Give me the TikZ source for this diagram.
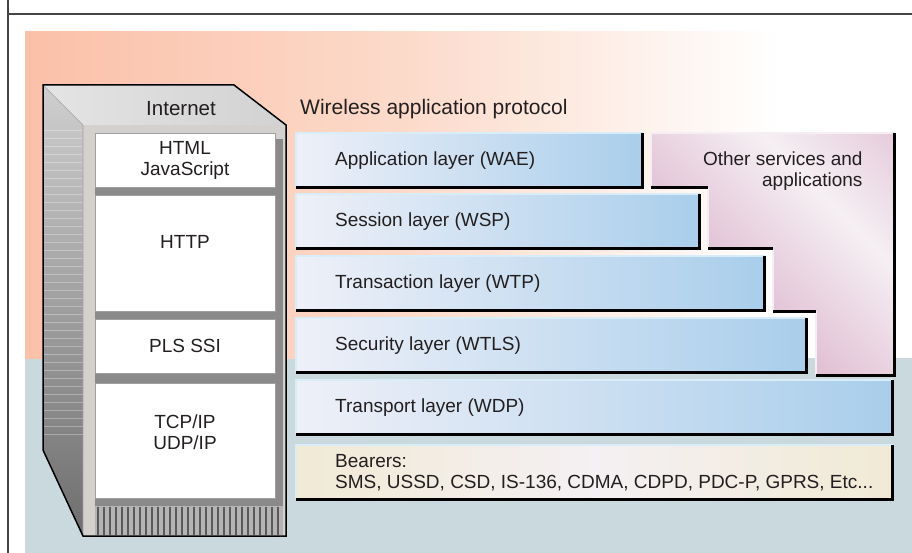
\documentclass[tikz,border=0pt]{standalone}
\usepackage{fontspec}
\setmainfont{Liberation Sans}
\usetikzlibrary{positioning}

\definecolor{ink}{HTML}{231F20}
\definecolor{framegray}{HTML}{444444}
\definecolor{salmon}{HTML}{FBC0A8}
\definecolor{salmonmid}{HTML}{FCDACA}
\definecolor{bgblue}{HTML}{C9D9DD}
\definecolor{barleft}{HTML}{EEF0F8}
\definecolor{barright}{HTML}{A9CEEB}
\definecolor{barhigh}{HTML}{D9EDF8}
\definecolor{cream}{HTML}{F1EAD5}
\definecolor{creammid}{HTML}{F4F0F3}
\definecolor{mauve}{HTML}{D9AEC8}
\definecolor{mauvehigh}{HTML}{F5EFF3}
\definecolor{sidetop}{HTML}{CFCFCF}
\definecolor{sidebot}{HTML}{6E6E6E}
\definecolor{topleft}{HTML}{E4E4E4}
\definecolor{topright}{HTML}{D2D2D2}
\definecolor{frontgray}{HTML}{D3D0CD}
\definecolor{slotgray}{HTML}{8A8A8A}
\definecolor{boxedge}{HTML}{A0A0A0}
\definecolor{grillbg}{HTML}{B4B4B4}
\definecolor{grilldark}{HTML}{5A5A5A}

\tikzset{
  layer/.style={rectangle, anchor=north west, inner sep=0pt, minimum height=54pt,
    left color=barleft, right color=barright},
  bearer/.style={rectangle, anchor=north west, inner sep=0pt, minimum height=54pt,
    left color=cream, right color=cream, middle color=creammid},
  barshadow/.style={black, line width=3pt},
  barhi/.style={barhigh, line width=2pt},
  layertext/.style={inner sep=0pt, anchor=west},
  netbox/.style={rectangle, draw=boxedge, line width=0.8pt, fill=white,
    minimum width=180pt, inner sep=0pt, align=center},
}

\begin{document}
\begin{tikzpicture}[x=1pt, y=-1pt, font=\fontsize{19}{21}\selectfont, text=ink]
\useasboundingbox (0,0) rectangle (912,553);
\fill[white] (0,0) rectangle (912,553);

% frame and background
\draw[framegray, line width=1.3pt] (8,0) -- (8,553);
\draw[framegray, line width=1.3pt] (8,14) -- (912,14);
\fill[bgblue] (25,358) rectangle (912,553);
\shade[left color=salmon, right color=white, middle color=salmonmid] (25,32) rectangle (780,358);

% server tower
\shade[top color=sidetop, bottom color=sidebot] (43,85) -- (83,125) -- (83,536) -- (43,450) -- cycle;
\foreach \y in {130,138,...,440}
  \draw[white, opacity=0.3, line width=0.6pt] (43,\y) -- (83,\y);
\shade[left color=topleft, right color=topright] (43,85) -- (234,85) -- (286,125) -- (83,125) -- cycle;
\fill[frontgray] (83,125) rectangle (286,536);
\fill[slotgray] (95,139) rectangle (283,535);
\fill[grillbg] (95,506) rectangle (283,535);
\foreach \x in {98,104,...,280}
  \draw[grilldark, line width=2.4pt] (\x,507) -- (\x,535);
\draw[boxedge, line width=0.6pt] (43,85) -- (83,125) -- (83,536);
\draw[black, line width=1.5pt, line join=miter]
  (43,85) -- (234,85) -- (286,125) -- (286,536) -- (83,536) -- (43,450) -- cycle;

\node[font=\fontsize{20.5}{22}\selectfont] (internet) at (181,109) {Internet};
\node[netbox, minimum height=54pt] (html) at (185,160) {HTML\\JavaScript};
\node[netbox, minimum height=116pt] (http) at (185,253) {};
\node (httplbl) at (185,242) {HTTP};
\node[netbox, minimum height=54pt] (pls) at (185,346) {PLS SSI};
\node[netbox, minimum height=115pt] (tcp) at (185,440.5) {};
\node[align=center] (tcplbl) at (185,432) {TCP/IP\\UDP/IP};

% other services block
\begin{scope}
  \clip (651,133) -- (894,133) -- (894,375) -- (816,375) -- (816,311) -- (773,311)
    -- (773,249) -- (708,249) -- (708,188) -- (651,188) -- cycle;
  \shade[left color=mauve, right color=mauve, middle color=mauvehigh, shading angle=-45]
    (651,45) rectangle (1023,375);
\end{scope}
\draw[mauvehigh, line width=2pt] (651,188) -- (651,133) -- (894,133);
\draw[mauvehigh, line width=2pt] (708,249) -- (708,188);
\draw[mauvehigh, line width=2pt] (773,311) -- (773,249);
\draw[mauvehigh, line width=2pt] (816,375) -- (816,311);
\draw[barshadow] (816,375) -- (894,375) -- (894,133);
\draw[barshadow] (651,188) -- (708,188);
\draw[barshadow] (708,249) -- (773,249);
\draw[barshadow] (773,311) -- (816,311);
\node[align=right, anchor=north east] (other) at (866,148) {Other services and\\applications};

% protocol layers
\node[anchor=west, inner sep=0pt, font=\fontsize{21}{23}\selectfont] (wap) at (300,109)
  {Wireless application protocol};
\node[layer, minimum width=346.5pt] (wae) at (296,133) {};
\node[layer, minimum width=403.5pt] (wsp) at (296,194) {};
\node[layer, minimum width=468.5pt] (wtp) at (296,256) {};
\node[layer, minimum width=510.5pt] (wtls) at (296,318) {};
\node[layer, minimum width=596.5pt] (wdp) at (296,380) {};
\node[bearer, minimum width=596.5pt] (bear) at (296,445) {};
\foreach \b in {wae,wsp,wtp,wtls,wdp,bear}{
  \draw[barhi] (\b.south west) -- (\b.north west) -- (\b.north east);
  \draw[barshadow] (\b.south west) -- (\b.south east) -- (\b.north east);
}
\node[layertext, right=39pt of wae.west] (waetxt) {Application layer (WAE)};
\node[layertext, right=39pt of wsp.west] (wsptxt) {Session layer (WSP)};
\node[layertext, right=39pt of wtp.west] (wtptxt) {Transaction layer (WTP)};
\node[layertext, right=39pt of wtls.west] (wtlstxt) {Security layer (WTLS)};
\node[layertext, right=39pt of wdp.west] (wdptxt) {Transport layer (WDP)};
\node[layertext, align=left, right=39pt of bear.west] (beartxt)
  {Bearers:\\SMS, USSD, CSD, IS-136, CDMA, CDPD, PDC-P, GPRS, Etc...};
\end{tikzpicture}
\end{document}
